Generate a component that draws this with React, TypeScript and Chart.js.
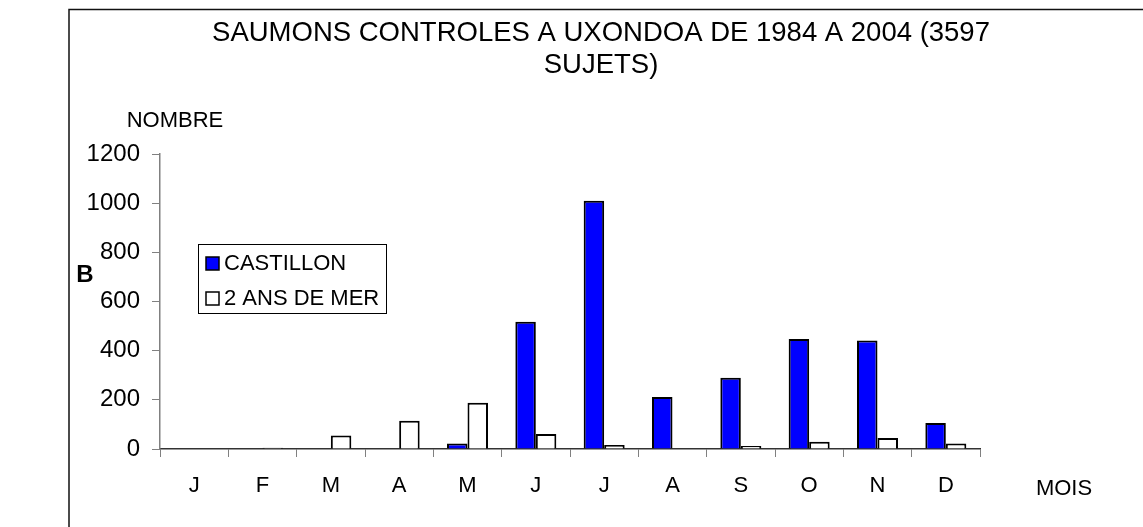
import React, { useEffect, useRef } from "react";
import { Chart, registerables } from "chart.js";

Chart.register(...registerables);

const months = ["J", "F", "M", "A", "M", "J", "J", "A", "S", "O", "N", "D"];
const castillon = [0, 0, 0, 0, 22, 518, 1010, 212, 290, 447, 441, 106];
const deuxAnsDeMer = [0, 5, 55, 115, 188, 61, 16, 2, 12, 30, 45, 22];
const seriesNames = ["CASTILLON", "2 ANS DE MER"];
const seriesColors = ["#0000FF", "#FFFFFF"];
const yMin = 0;
const yMax = 1200;
const yStep = 200;
const titleLines = ["SAUMONS CONTROLES A UXONDOA DE 1984 A 2004 (3597", "SUJETS)"];
const yAxisTitle = "NOMBRE";
const xAxisTitle = "MOIS";
const panelLetter = "B";

const FONT = "'Liberation Sans', Arial, Helvetica, sans-serif";
const W = 1143;
const H = 527;

const decorPlugin = {
  id: "decor",
  beforeDraw(chart: any) {
    const ctx = chart.ctx;
    ctx.save();
    ctx.fillStyle = "#fff";
    ctx.fillRect(0, 0, W, H);
    ctx.restore();
  },
  afterDraw(chart: any) {
    const ctx = chart.ctx;
    ctx.save();
    // outer frame (top + left)
    ctx.strokeStyle = "#111";
    ctx.lineWidth = 1.5;
    ctx.beginPath();
    ctx.moveTo(69, H);
    ctx.lineTo(69, 9.5);
    ctx.lineTo(W, 9.5);
    ctx.stroke();

    ctx.fillStyle = "#000";
    ctx.textAlign = "center";
    ctx.textBaseline = "middle";
    ctx.font = `27.5px ${FONT}`;
    titleLines.forEach((t, i) => ctx.fillText(t, 601, 33 + i * 32));

    ctx.font = `22px ${FONT}`;
    ctx.fillText(yAxisTitle, 175, 121);
    ctx.fillText(xAxisTitle, 1064, 489);

    ctx.font = `bold 24px ${FONT}`;
    ctx.fillText(panelLetter, 85, 275);

    // legend
    const lx = 198.5, ly = 244.5, lw = 188, lh = 69;
    ctx.fillStyle = "#fff";
    ctx.fillRect(lx, ly, lw, lh);
    ctx.strokeStyle = "#000";
    ctx.lineWidth = 1;
    ctx.strokeRect(lx, ly, lw, lh);
    const ds = chart.data.datasets;
    ds.forEach((d: any, i: number) => {
      const cy = 263 + i * 35;
      ctx.fillStyle = d.backgroundColor;
      ctx.fillRect(206, cy - 6, 13, 13);
      ctx.strokeStyle = "#000";
      ctx.lineWidth = 1.5;
      ctx.strokeRect(206, cy - 6, 13, 13);
      ctx.fillStyle = "#000";
      ctx.textAlign = "left";
      ctx.font = `22px ${FONT}`;
      ctx.fillText(d.label, 224, cy + 1);
    });
    ctx.restore();
  },
};

export default function App() {
  const ref = useRef<HTMLCanvasElement | null>(null);
  useEffect(() => {
    if (!ref.current) return;
    const chart = new Chart(ref.current, {
      type: "bar",
      data: {
        labels: months,
        datasets: [
          {
            label: seriesNames[0],
            data: castillon,
            backgroundColor: seriesColors[0],
            borderColor: "#000",
            borderWidth: 2,
            categoryPercentage: 0.6,
            barPercentage: 1,
          },
          {
            label: seriesNames[1],
            data: deuxAnsDeMer,
            backgroundColor: seriesColors[1],
            borderColor: "#000",
            borderWidth: 2,
            categoryPercentage: 0.6,
            barPercentage: 1,
          },
        ],
      },
      options: {
        responsive: false,
        animation: false,
        devicePixelRatio: 1,
        layout: { padding: { left: 0, right: 163, top: 154, bottom: 0 } },
        plugins: {
          legend: { display: false },
          title: { display: false },
          tooltip: { enabled: false },
        },
        scales: {
          x: {
            grid: {
              display: true,
              drawOnChartArea: false,
              drawTicks: true,
              tickLength: 8,
              color: "#808080",
              offset: true,
            },
            border: { display: true, color: "#333", width: 1.5 },
            ticks: {
              color: "#000",
              font: { family: FONT, size: 22 },
              padding: 16,
              maxRotation: 0,
              autoSkip: false,
            },
            afterFit(scale: any) {
              scale.height = 78;
            },
          },
          y: {
            min: yMin,
            max: yMax,
            grid: {
              display: true,
              drawOnChartArea: false,
              drawTicks: true,
              tickLength: 8,
              color: "#808080",
            },
            border: { display: true, color: "#808080", width: 1.5 },
            ticks: {
              stepSize: yStep,
              color: "#000",
              font: { family: FONT, size: 24 },
              padding: 12,
              callback: (v: any) => String(v),
            },
            afterFit(scale: any) {
              scale.width = 160;
            },
          },
        },
      },
      plugins: [decorPlugin],
    });
    return () => chart.destroy();
  }, []);
  return (
    <div style={{ position: "absolute", left: 0, top: 0, width: W, height: H }}>
      <canvas ref={ref} width={W} height={H} style={{ width: W, height: H, display: "block" }} />
    </div>
  );
}
